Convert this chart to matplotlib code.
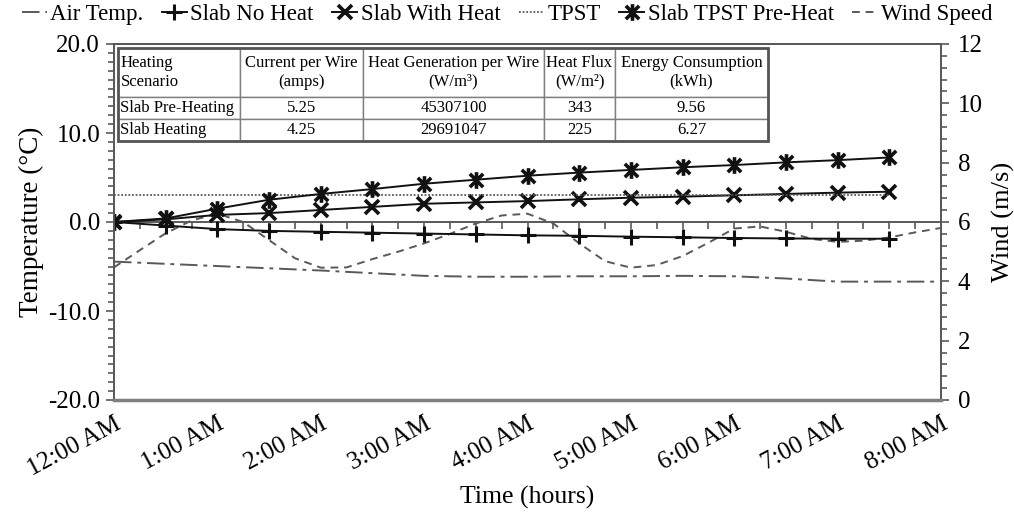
import numpy as np
import matplotlib
matplotlib.use('Agg')
import matplotlib.pyplot as plt
from matplotlib.path import Path
from matplotlib.patches import Rectangle
from matplotlib.ticker import MultipleLocator, FormatStrFormatter

plt.rcParams['font.family'] = ['Liberation Serif', 'DejaVu Serif']
plt.rcParams['axes.unicode_minus'] = False

# ---------------- data ----------------
slab_hours = [0.0, 0.5, 1.0, 1.5, 2.0, 2.5, 3.0, 3.5, 4.0, 4.5, 5.0, 5.5, 6.0, 6.5, 7.0, 7.5]
slab_no_heat = [0.0, -0.4, -0.8, -1.0, -1.1, -1.2, -1.3, -1.4, -1.5, -1.55, -1.65, -1.72, -1.8, -1.85, -1.88, -1.88]
slab_with_heat = [0.0, 0.3, 0.8, 1.0, 1.35, 1.7, 2.05, 2.2, 2.35, 2.55, 2.73, 2.85, 3.0, 3.15, 3.3, 3.4]
slab_preheat = [0.0, 0.4, 1.5, 2.5, 3.15, 3.7, 4.3, 4.75, 5.2, 5.55, 5.85, 6.15, 6.4, 6.7, 6.95, 7.25]

tpst_hours = [0.0, 7.5]
tpst = [3.0, 3.0]

air_hours = [0.0, 0.5, 1.0, 1.5, 2.0, 2.5, 3.0, 3.5, 4.0, 4.5, 5.0, 5.5, 6.0, 6.5, 7.0, 7.5, 8.0]
air_temp = [-4.45, -4.7, -4.95, -5.2, -5.45, -5.75, -6.05, -6.15, -6.15, -6.1, -6.1, -6.05, -6.1, -6.35, -6.7, -6.7, -6.7]

wind_hours = [0.0, 0.25, 0.5, 0.75, 1.0, 1.25, 1.5, 1.75, 2.0, 2.25, 2.5, 2.75, 3.0, 3.25, 3.5, 3.75,
              4.0, 4.25, 4.5, 4.75, 5.0, 5.25, 5.5, 5.75, 6.0, 6.25, 6.5, 6.75, 7.0, 7.25, 7.5, 7.75, 8.0]
wind_speed = [4.47, 5.05, 5.62, 6.05, 6.28, 6.0, 5.39, 4.78, 4.46, 4.47, 4.75, 5.0, 5.28, 5.6, 5.95, 6.22,
              6.28, 5.95, 5.28, 4.68, 4.46, 4.55, 4.85, 5.3, 5.78, 5.85, 5.67, 5.43, 5.33, 5.37, 5.48, 5.65, 5.8]

time_ticks = [0, 1, 2, 3, 4, 5, 6, 7, 8]
time_labels = ['12:00 AM', '1:00 AM', '2:00 AM', '3:00 AM', '4:00 AM', '5:00 AM', '6:00 AM', '7:00 AM', '8:00 AM']

table_cols = ['Heating\nScenario', 'Current per Wire\n(amps)', 'Heat Generation per Wire\n(W/m³)',
              'Heat Flux\n(W/m²)', 'Energy Consumption\n(kWh)']
table_rows = [['Slab Pre-Heating', '5.25', '45307100', '343', '9.56'],
              ['Slab Heating', '4.25', '29691047', '225', '6.27']]

# ---------------- figure ----------------
fig = plt.figure(figsize=(10.14, 5.14), dpi=100)
ax = fig.add_axes([114 / 1014, 1 - 400 / 514, 827 / 1014, 356 / 514])
ax2 = ax.twinx()
ax.set_zorder(ax2.get_zorder() + 1)
ax.patch.set_visible(False)

star = Path([(-1, -1), (1, 1), (-1, 1), (1, -1), (0, -1.25), (0, 1.25)],
            [Path.MOVETO, Path.LINETO, Path.MOVETO, Path.LINETO, Path.MOVETO, Path.LINETO])

dark = '#111111'
gray = '#595959'

l_air, = ax.plot(air_hours, air_temp, color=gray, lw=1.4, ls=(0, (9, 3, 2, 3)), label='Air Temp.')
l_no, = ax.plot(slab_hours, slab_no_heat, color=dark, lw=1.4, marker='+', ms=12, mew=2.2, label='Slab No Heat')
l_with, = ax.plot(slab_hours, slab_with_heat, color=dark, lw=1.4, marker='x', ms=10, mew=2.6, label='Slab With Heat')
l_tpst, = ax.plot(tpst_hours, tpst, color=gray, lw=1.3, ls=(0, (1, 1)), label='TPST')
l_pre, = ax.plot(slab_hours, slab_preheat, color=dark, lw=1.4, marker=star, ms=12, mew=2.6, label='Slab TPST Pre-Heat')
l_wind, = ax2.plot(wind_hours, wind_speed, color=gray, lw=1.4, ls=(0, (4, 3)), label='Wind Speed')

ax.set_xlim(0, 8)
ax.set_ylim(-20, 20)
ax2.set_ylim(0, 12)

ax.set_yticks([-20, -10, 0, 10, 20])
ax.yaxis.set_major_formatter(FormatStrFormatter('%.1f'))
ax.yaxis.set_minor_locator(MultipleLocator(1))
ax2.set_yticks([0, 2, 4, 6, 8, 10, 12])
ax2.yaxis.set_minor_locator(MultipleLocator(0.4))

ax.set_xticks(time_ticks)
ax.set_xticklabels(time_labels, rotation=28, ha='right', va='top', rotation_mode='anchor')
ax.tick_params(axis='x', length=0, pad=9, labelsize=18)
ax.tick_params(axis='y', which='major', direction='out', length=6, width=1.2, color=gray, labelsize=18, pad=4)
ax.tick_params(axis='y', which='minor', direction='out', length=4, width=1.2, color=gray)
ax2.tick_params(axis='y', which='major', direction='out', length=6, width=1.2, color=gray, labelsize=18, pad=6)
ax2.tick_params(axis='y', which='minor', direction='out', length=4, width=1.2, color=gray)

for a in (ax, ax2):
    for s in a.spines.values():
        s.set_color(gray)
        s.set_linewidth(1.3)
ax.spines['bottom'].set_linewidth(2.5)
ax.spines['bottom'].set_color('#7f7f7f')
ax2.spines['bottom'].set_visible(False)

# zero line with quarter-hour ticks
sec = ax.secondary_xaxis(0, transform=ax.transData)
sec.set_xticks(np.arange(0, 8.01, 0.25))
sec.set_xticklabels([])
sec.tick_params(axis='x', direction='out', length=5, width=1.2, color=gray)
sec.spines['bottom'].set_color(gray)
sec.spines['bottom'].set_linewidth(1.4)

ax.set_ylabel('Temperature (°C)', fontsize=19.5, labelpad=3)
ax2.set_ylabel('Wind (m/s)', fontsize=19, labelpad=7)
ax.set_xlabel('Time (hours)', fontsize=18.5, labelpad=4)

# table
tb_bbox = [4 / 827, (400 - 141) / 356, 650 / 827, 93 / 356]
tb = ax.table(cellText=table_rows, colLabels=table_cols,
              colWidths=[122, 123, 181, 71, 153],
              cellLoc='center', loc='upper left', bbox=tb_bbox)
tb.auto_set_font_size(False)
for (r, c), cell in tb.get_celld().items():
    cell.set_edgecolor('#7f7f7f')
    cell.set_linewidth(1.0)
    cell.set_facecolor('white')
    cell.get_text().set_fontsize(12)
    cell.PAD = 0.02
    if r == 0:
        cell.set_height(2.2)
    else:
        cell.set_height(1.0)
    if c == 0:
        cell._loc = 'left'
        cell.get_text().set_ha('left')
tb.set_zorder(5)
ax.add_patch(Rectangle((tb_bbox[0], tb_bbox[1]), tb_bbox[2], tb_bbox[3], transform=ax.transAxes,
                       fill=False, edgecolor='#555555', lw=2.0, zorder=6))

handles = [l_air, l_no, l_with, l_tpst, l_pre, l_wind]
fig.legend(handles=handles, labels=[h.get_label() for h in handles], loc='upper center',
           bbox_to_anchor=(0.5, 1.015), ncol=6, frameon=False, fontsize=16.5,
           handlelength=1.1, handletextpad=0.15, columnspacing=0.8, borderaxespad=0.1)

fig.savefig('out.png', dpi=100)
